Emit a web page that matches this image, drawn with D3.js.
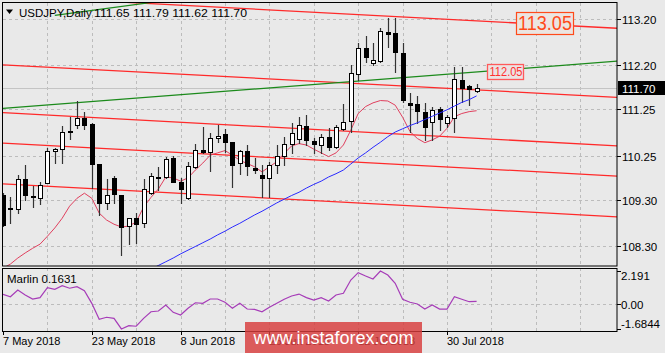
<!DOCTYPE html>
<html>
<head>
<meta charset="utf-8">
<script src="https://cdn.jsdelivr.net/npm/d3@7"></script>
<style>
  html, body { margin: 0; padding: 0; background: #e9e9e9; }
  svg { display: block; font-family: "Liberation Sans", Arial, sans-serif; }
</style>
</head>
<body>
<svg id="chart" width="665" height="353"></svg>
<script>
// USDJPY daily bars, 7 May 2018 .. 3 Aug 2018
const opens = [109.40, 109.10, 109.10, 109.74, 109.39, 109.33, 109.66, 110.35, 110.39, 110.77,
  110.91, 111.06, 110.93, 110.07, 109.23, 109.77, 109.40, 108.73, 108.90, 108.79,
  109.44, 109.79, 109.79, 110.20, 109.68, 109.33, 110.00, 110.37, 110.33, 110.63,
  110.72, 110.54, 110.09, 110.35, 109.98, 109.83, 109.77, 110.05, 110.24, 110.50,
  110.61, 110.89, 110.56, 110.48, 110.65, 110.43, 110.82, 111.00, 112.01, 112.57,
  112.25, 112.29, 112.92, 112.90, 112.47, 111.39, 111.36, 111.19, 110.97, 111.26,
  110.95, 111.06, 111.88, 111.75, 111.65];
const highs = [109.44, 109.35, 109.83, 110.05, 109.59, 109.68, 110.41, 110.41, 110.89, 111.08,
  111.43, 111.19, 110.95, 110.07, 109.74, 109.81, 109.40, 108.90, 109.01, 109.74,
  109.87, 110.00, 110.22, 110.24, 109.77, 110.11, 110.50, 110.87, 110.74, 110.91,
  110.82, 110.54, 110.37, 110.48, 110.20, 110.05, 110.11, 110.48, 110.65, 110.95,
  111.08, 111.13, 110.63, 110.72, 110.85, 110.91, 111.36, 112.21, 112.68, 112.83,
  112.68, 113.00, 113.22, 113.22, 112.68, 111.60, 111.54, 111.39, 111.30, 111.30,
  111.13, 112.16, 112.16, 111.77, 111.79];
const lows = [108.73, 108.79, 109.01, 109.29, 109.14, 109.20, 109.66, 110.09, 110.09, 110.61,
  110.85, 110.82, 109.55, 108.97, 109.10, 109.23, 108.10, 108.34, 108.36, 108.71,
  109.42, 109.51, 109.77, 109.68, 109.23, 109.31, 109.98, 110.31, 109.92, 110.54,
  110.33, 109.57, 109.85, 109.83, 109.87, 109.35, 109.35, 109.87, 110.05, 110.31,
  110.52, 110.48, 110.31, 110.31, 110.37, 110.41, 110.80, 110.76, 111.88, 112.27,
  112.21, 112.27, 112.60, 112.06, 111.41, 110.76, 110.95, 110.59, 110.59, 110.80,
  110.87, 110.76, 111.41, 111.34, 111.62];
const closes = [108.75, 109.12, 109.74, 109.40, 109.38, 109.61, 110.35, 110.39, 110.76, 110.78,
  111.06, 110.91, 110.07, 109.23, 109.40, 109.42, 108.71, 108.90, 108.77, 109.53,
  109.81, 109.80, 110.18, 109.68, 109.53, 110.02, 110.37, 110.33, 110.63, 110.67,
  110.54, 110.05, 110.35, 110.02, 109.94, 109.77, 110.05, 110.24, 110.50, 110.74,
  110.91, 110.59, 110.50, 110.65, 110.43, 110.87, 110.97, 112.03, 112.57, 112.38,
  112.31, 112.94, 112.88, 112.49, 111.45, 111.34, 111.21, 110.87, 111.23, 111.04,
  111.08, 111.90, 111.71, 111.69, 111.70];

// fast MA (pink) and slow MA (blue)
const maFast = [107.82, 107.91, 108.04, 108.15, 108.25, 108.34, 108.51, 108.69, 108.90, 109.16,
  109.33, 109.44, 109.33, 109.01, 108.86, 108.77, 108.71, 108.73, 108.82, 109.14,
  109.35, 109.53, 109.79, 109.77, 109.70, 109.77, 109.94, 110.09, 110.26, 110.31,
  110.36, 110.26, 110.15, 110.08, 110.01, 109.90, 110.01, 110.12, 110.30, 110.46,
  110.51, 110.48, 110.39, 110.31, 110.23, 110.31, 110.48, 110.80, 111.16, 111.31,
  111.39, 111.44, 111.43, 111.34, 111.08, 110.77, 110.62, 110.53, 110.59, 110.67,
  110.84, 111.09, 111.16, 111.20, 111.22];
const maSlow = [null, null, null, null, null, null, null, null, null, null,
  null, null, null, null, null, null, null, null, null, null,
  107.80, 107.88, 107.96, 108.04, 108.13, 108.21, 108.29, 108.37, 108.45, 108.54,
  108.62, 108.71, 108.79, 108.88, 108.97, 109.05, 109.14, 109.23, 109.31, 109.39,
  109.46, 109.55, 109.63, 109.70, 109.79, 109.86, 109.94, 110.07, 110.20, 110.31,
  110.43, 110.54, 110.66, 110.76, 110.83, 110.90, 110.96, 111.03, 111.10, 111.17,
  111.24, 111.32, 111.40, 111.46, 111.54];

// Marlin oscillator
const marlin = [0.63, 0.47, 0.92, 0.59, 0.32, 0.41, 1.08, 0.97, 1.21, 1.04,
  1.14, 0.88, 0.03, -1.04, -0.90, -0.97, -1.68, -1.46, -1.50, -0.97,
  -0.53, -0.48, -0.08, -0.57, -0.75, -0.30, 0.07, 0.03, 0.32, 0.32,
  0.10, -0.30, 0.03, -0.35, -0.37, -0.53, -0.23, 0.03, 0.30, 0.52,
  0.65, 0.41, 0.25, 0.41, 0.19, 0.59, 0.70, 1.59, 2.08, 1.86,
  1.66, 2.19, 1.92, 1.37, 0.30, 0.10, -0.01, -0.35, -0.08, -0.35,
  -0.35, 0.47, 0.30, 0.14, 0.16];

// trend lines: price at bar 0 and at bar 83
const redStart = [113.70, 112.21, 111.18, 110.52, 109.64];
const redEnd = [113.00, 111.51, 110.46, 109.81, 108.93];
const greenStart = [111.27];
const greenEnd = [112.29];
// short green segment near the top: [bar, price] pairs
const greenSegBars = [7, 23];
const greenSegPrices = [113.28, 113.62];

const priceTicks = [113.20, 112.20, 111.25, 110.25, 109.30, 108.30];
const marlinTicks = [2.191, 0.00, -1.6844];
const marlinTickText = ["2.191", "0.00", "-1.6844"];
const dateIdx = [0, 12, 24, 36, 48, 60];
const dateLabels = ["7 May 2018", "23 May 2018", "8 Jun 2018", "26 Jun 2018", "12 Jul 2018", "30 Jul 2018"];

const W = 665, H = 353;
const left = 3, right = 617, mainTop = 3, mainBottom = 266, indTop = 268, indBottom = 331;
const barStep = 7.4;
const lastBar = 83;

const svg = d3.select('#chart');
svg.append('rect').attr('width', W).attr('height', H).attr('fill', '#e9e9e9');

const x = d3.scaleLinear().domain([0, lastBar]).range([left, left + lastBar * barStep]);
const y = d3.scaleLinear().domain([108.30, 113.20]).range([246, 19]);
const yM = d3.scaleLinear().domain([-1.6844, 2.191]).range([329, 271]);
const px = i => Math.round(x(i)) + 0.5;

const defs = svg.append('defs');
defs.append('clipPath').attr('id', 'clipMain').append('rect')
  .attr('x', left).attr('y', mainTop).attr('width', right - left).attr('height', mainBottom - mainTop);
defs.append('clipPath').attr('id', 'clipInd').append('rect')
  .attr('x', left).attr('y', indTop).attr('width', right - left).attr('height', indBottom - indTop);

// grid
const gridIdx = d3.range(6, lastBar, 6);
const grid = svg.append('g').attr('stroke', '#bcbcbc').attr('stroke-dasharray', '3,3').attr('stroke-width', 1);
gridIdx.forEach(i => {
  grid.append('line').attr('x1', px(i)).attr('x2', px(i)).attr('y1', mainTop).attr('y2', mainBottom);
  grid.append('line').attr('x1', px(i)).attr('x2', px(i)).attr('y1', indTop).attr('y2', indBottom);
});
priceTicks.forEach(p => {
  const yy = Math.round(y(p)) + 0.5;
  grid.append('line').attr('x1', left).attr('x2', right).attr('y1', yy).attr('y2', yy);
});
grid.append('line').attr('x1', left).attr('x2', right)
  .attr('y1', Math.round(yM(0)) + 0.5).attr('y2', Math.round(yM(0)) + 0.5);

const main = svg.append('g').attr('clip-path', 'url(#clipMain)');

// bid line
const last = closes[closes.length - 1];
main.append('line').attr('x1', left).attr('x2', right)
  .attr('y1', Math.round(y(last)) + 0.5).attr('y2', Math.round(y(last)) + 0.5)
  .attr('stroke', '#c4c4c4');

const seg = d3.line().x(d => x(d[0])).y(d => y(d[1]));

redStart.forEach((p, k) => {
  main.append('path').attr('d', seg([[0, p], [lastBar, redEnd[k]]]))
    .attr('fill', 'none').attr('stroke', '#ff2a2a').attr('stroke-width', 1.3);
});
greenStart.forEach((p, k) => {
  main.append('path').attr('d', seg([[0, p], [lastBar, greenEnd[k]]]))
    .attr('fill', 'none').attr('stroke', '#1b8a1b').attr('stroke-width', 1.2);
});
main.append('path').attr('d', seg(greenSegBars.map((b, k) => [b, greenSegPrices[k]])))
  .attr('fill', 'none').attr('stroke', '#1b8a1b').attr('stroke-width', 1.2);

const maLine = d3.line().defined(d => d != null).x((d, i) => x(i)).y(d => y(d));
main.append('path').attr('d', maLine(maFast)).attr('fill', 'none')
  .attr('stroke', '#e0405e').attr('stroke-width', 1);

// candles
const candles = main.append('g');
opens.forEach((o, i) => {
  const c = closes[i];
  candles.append('line').attr('x1', px(i)).attr('x2', px(i))
    .attr('y1', Math.round(y(highs[i]))).attr('y2', Math.round(y(lows[i])) + 1)
    .attr('stroke', '#333').attr('stroke-width', 1.2);
  const top = Math.round(y(Math.max(o, c)));
  const bot = Math.round(y(Math.min(o, c)));
  candles.append('rect')
    .attr('x', Math.round(x(i)) - 2 + 0.5).attr('y', top + 0.5)
    .attr('width', 4).attr('height', Math.max(1, bot - top))
    .attr('fill', c >= o ? '#ffffff' : '#000000')
    .attr('stroke', '#000').attr('stroke-width', 1);
});

main.append('path').attr('d', maLine(maSlow)).attr('fill', 'none')
  .attr('stroke', '#2a2aff').attr('stroke-width', 1);

// price labels on the chart
const big = main.append('g');
big.append('rect').attr('x', 516.5).attr('y', Math.round(y(113.05)) - 13.5).attr('width', 57).attr('height', 22)
  .attr('fill', '#ebe5e1').attr('stroke', '#ff4a1a').attr('stroke-width', 1.2);
big.append('text').attr('x', 518).attr('y', y(113.05) - 2.5).attr('dy', '0.35em')
  .attr('font-size', 20).attr('fill', '#ff4a1a')
  .attr('textLength', 54).attr('lengthAdjust', 'spacingAndGlyphs').text('113.05');
const small = main.append('g');
small.append('rect').attr('x', 487.5).attr('y', Math.round(y(112.05)) - 7.5).attr('width', 36).attr('height', 15)
  .attr('fill', '#ebe3e3').attr('stroke', '#ff5a5a').attr('stroke-width', 1.3);
small.append('text').attr('x', 489.5).attr('y', y(112.05)).attr('dy', '0.35em')
  .attr('font-size', 12).attr('fill', '#ff3030')
  .attr('textLength', 33).attr('lengthAdjust', 'spacingAndGlyphs').text('112.05');

// indicator
svg.append('g').attr('clip-path', 'url(#clipInd)').append('path')
  .attr('d', d3.line().x((d, i) => x(i)).y(d => yM(d))(marlin))
  .attr('fill', 'none').attr('stroke', '#a63cb8').attr('stroke-width', 1.2);

// frames
svg.append('rect').attr('x', 2.5).attr('y', 2.5).attr('width', right - 2.5).attr('height', mainBottom - 2.5)
  .attr('fill', 'none').attr('stroke', '#000');
svg.append('rect').attr('x', 2.5).attr('y', indTop + 0.5).attr('width', right - 2.5).attr('height', indBottom - indTop)
  .attr('fill', 'none').attr('stroke', '#000');

// price axis
const axis = svg.append('g').attr('font-size', 11.5).attr('fill', '#000');
priceTicks.forEach(p => {
  const yy = Math.round(y(p)) + 0.5;
  axis.append('line').attr('x1', right).attr('x2', right + 4).attr('y1', yy).attr('y2', yy).attr('stroke', '#000');
  axis.append('text').attr('x', 622).attr('y', yy).attr('dy', '0.35em').text(d3.format('.2f')(p));
});
axis.append('rect').attr('x', 618).attr('y', Math.round(y(last)) - 7).attr('width', 47).attr('height', 14).attr('fill', '#000');
axis.append('text').attr('x', 622).attr('y', y(last)).attr('dy', '0.35em').attr('fill', '#fff').text(d3.format('.2f')(last));

marlinTicks.forEach((v, k) => {
  const yy = Math.round(yM(v)) + 0.5;
  axis.append('line').attr('x1', right).attr('x2', right + 4).attr('y1', yy).attr('y2', yy).attr('stroke', '#000');
  axis.append('text').attr('x', 621).attr('y', Math.min(324, Math.max(276, yy))).attr('dy', '0.35em').text(marlinTickText[k]);
});

// date axis (labels under the watermark stay, as in the original)
dateIdx.forEach((i, k) => {
  axis.append('line').attr('x1', px(i)).attr('x2', px(i)).attr('y1', indBottom).attr('y2', indBottom + 4).attr('stroke', '#000');
  axis.append('text').attr('x', x(i)).attr('y', 341).attr('dy', '0.35em').attr('font-size', 11).text(dateLabels[k]);
});

// header
svg.append('path').attr('d', 'M6,9.5 L13,9.5 L9.5,14 Z').attr('fill', '#000');
svg.append('text').attr('x', 19).attr('y', 17).attr('font-size', 11.5).text('USDJPY,Daily');
svg.append('text').attr('x', 94).attr('y', 17).attr('font-size', 11.5)
  .attr('textLength', 153).attr('lengthAdjust', 'spacingAndGlyphs').text('111.65 111.79 111.62 111.70');
svg.append('text').attr('x', 7).attr('y', 278.5).attr('dy', '0.35em').attr('font-size', 11.5).text('Marlin 0.1631');

// watermark
svg.append('rect').attr('x', 245).attr('y', 322).attr('width', 177).attr('height', 31)
  .attr('fill', '#d83c3c').attr('opacity', 0.82);
svg.append('text').attr('x', 333.5).attr('y', 337.5).attr('dy', '0.35em').attr('text-anchor', 'middle')
  .attr('font-size', 18).attr('fill', '#fff').text('www.instaforex.com');
</script>
</body>
</html>
